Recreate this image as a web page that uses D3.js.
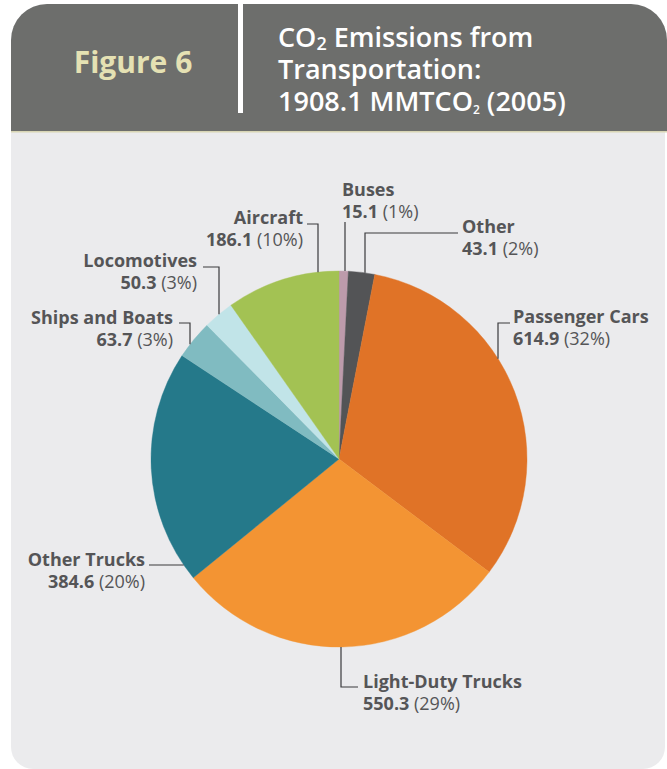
<!DOCTYPE html>
<html>
<head>
<meta charset="utf-8">
<script src="https://cdn.jsdelivr.net/npm/d3@7"></script>
<style>
  body { margin: 0; background: #fff; }
  svg { display: block; font-family: "Open Sans", sans-serif; }
</style>
</head>
<body>
<svg id="chart" width="667" height="769"></svg>
<script>
// data, clockwise from 12 o'clock
var categories = ["Buses", "Other", "Passenger Cars", "Light-Duty Trucks", "Other Trucks", "Ships and Boats", "Locomotives", "Aircraft"];
var values = [15.1, 43.1, 614.9, 550.3, 384.6, 63.7, 50.3, 186.1];
var percents = ["1%", "2%", "32%", "29%", "20%", "3%", "3%", "10%"];
var colors = ["#bd9bab", "#535456", "#e07327", "#f39433", "#25798a", "#80bbc1", "#c1e4e8", "#a3c253"];

// label layout: text anchor point, and leader line (elbow point + direction to reach the pie)
var labelLayout = [
  { anchor: "start", x: 342, y: 196, lead: [[345, 222]], to: "v" },
  { anchor: "start", x: 462, y: 233, lead: [[458, 233], [365, 233]], to: "v" },
  { anchor: "start", x: 513, y: 323, lead: [[510, 323], [498, 323]], to: "v" },
  { anchor: "start", x: 363, y: 688, lead: [[358, 687], [341, 687]], to: "v" },
  { anchor: "end", x: 145, y: 566, lead: [[149, 565]], to: "h" },
  { anchor: "end", x: 173, y: 324, lead: [[179, 323], [190, 323]], to: "v" },
  { anchor: "end", x: 197, y: 267, lead: [[203, 267], [219, 267]], to: "v" },
  { anchor: "end", x: 303, y: 224, lead: [[307, 224], [318, 224]], to: "v" }
];

var svg = d3.select("#chart");
var cx = 339, cy = 459, r = 188;

// card
svg.append("path")
  .attr("d", roundRect(11, 4, 656, 127, 36, 36, 0, 0))
  .attr("fill", "#6d6e6c");
svg.append("path")
  .attr("d", roundRect(11, 131, 654, 638, 0, 0, 22, 22))
  .attr("fill", "#ebebed");
svg.append("rect").attr("x", 11).attr("y", 131).attr("width", 656).attr("height", 1.5).attr("fill", "#d8d5b4");

// divider
svg.append("rect").attr("x", 238).attr("y", 4).attr("width", 5).attr("height", 109).attr("fill", "#fff");

svg.append("text")
  .attr("x", 133).attr("y", 73)
  .attr("text-anchor", "middle")
  .attr("fill", "#e5e1b3")
  .attr("font-size", 30).attr("font-weight", 700)
  .text("Figure 6");

var title = svg.append("text")
  .attr("fill", "#fff")
  .attr("font-size", 27).attr("font-weight", 600);
var t1 = title.append("tspan").attr("x", 278).attr("y", 47);
t1.append("tspan").text("CO");
t1.append("tspan").attr("font-size", 18).attr("dy", 3).text("2");
t1.append("tspan").attr("dy", -3).text(" Emissions from");
title.append("tspan").attr("x", 278).attr("y", 79).text("Transportation:");
var t3 = title.append("tspan").attr("x", 278).attr("y", 111);
t3.append("tspan").text("1908.1 MMTCO");
t3.append("tspan").attr("font-size", 12).attr("dy", 3).text("2");
t3.append("tspan").attr("dy", -3).text(" (2005)");

// pie
var rows = categories.map(function(c, i) {
  return { name: c, value: values[i], pct: percents[i], color: colors[i], layout: labelLayout[i] };
});

var pie = d3.pie().sort(null).value(function(d) { return d.value; });
var arc = d3.arc().innerRadius(0).outerRadius(r);

var g = svg.append("g").attr("transform", "translate(" + cx + "," + cy + ")");
g.selectAll("path.slice")
  .data(pie(rows))
  .enter()
  .append("path")
    .attr("class", "slice")
    .attr("d", arc)
    .attr("fill", function(d) { return d.data.color; })
    .attr("stroke", function(d) { return d.data.color; })
    .attr("stroke-width", 0.4);

// leader lines: last elbow point is extended to the circle edge
var line = d3.line();
rows.forEach(function(d) {
  var pts = d.layout.lead.slice();
  var last = pts[pts.length - 1];
  var end;
  if (d.layout.to === "v") {
    var dx = last[0] - cx;
    var dy = Math.sqrt(r * r - dx * dx);
    end = [last[0], last[1] < cy ? cy - dy : cy + dy];
  } else {
    var dy2 = last[1] - cy;
    var dx2 = Math.sqrt(r * r - dy2 * dy2);
    end = [last[0] < cx ? cx - dx2 : cx + dx2, last[1]];
  }
  pts.push(end);
  svg.append("path")
    .attr("d", line(pts))
    .attr("fill", "none")
    .attr("stroke", "#3a3a3c")
    .attr("stroke-width", 1.2);
});

// labels
rows.forEach(function(d) {
  var t = svg.append("text")
    .attr("text-anchor", d.layout.anchor)
    .attr("fill", "#555557")
    .attr("font-size", 18);
  t.append("tspan")
    .attr("x", d.layout.x).attr("y", d.layout.y)
    .attr("font-weight", 700)
    .text(d.name);
  var t2 = t.append("tspan").attr("x", d.layout.x).attr("y", d.layout.y + 22);
  t2.append("tspan").attr("font-weight", 700).text(d3.format(".1f")(d.value));
  t2.append("tspan").attr("font-weight", 400).text(" (" + d.pct + ")");
});

function roundRect(x, y, w, h, tl, tr, br, bl) {
  return "M" + (x + tl) + "," + y +
    "H" + (x + w - tr) + (tr ? "A" + tr + "," + tr + " 0 0 1 " + (x + w) + "," + (y + tr) : "") +
    "V" + (y + h - br) + (br ? "A" + br + "," + br + " 0 0 1 " + (x + w - br) + "," + (y + h) : "") +
    "H" + (x + bl) + (bl ? "A" + bl + "," + bl + " 0 0 1 " + x + "," + (y + h - bl) : "") +
    "V" + (y + tl) + (tl ? "A" + tl + "," + tl + " 0 0 1 " + (x + tl) + "," + y : "") + "Z";
}
</script>
</body>
</html>
